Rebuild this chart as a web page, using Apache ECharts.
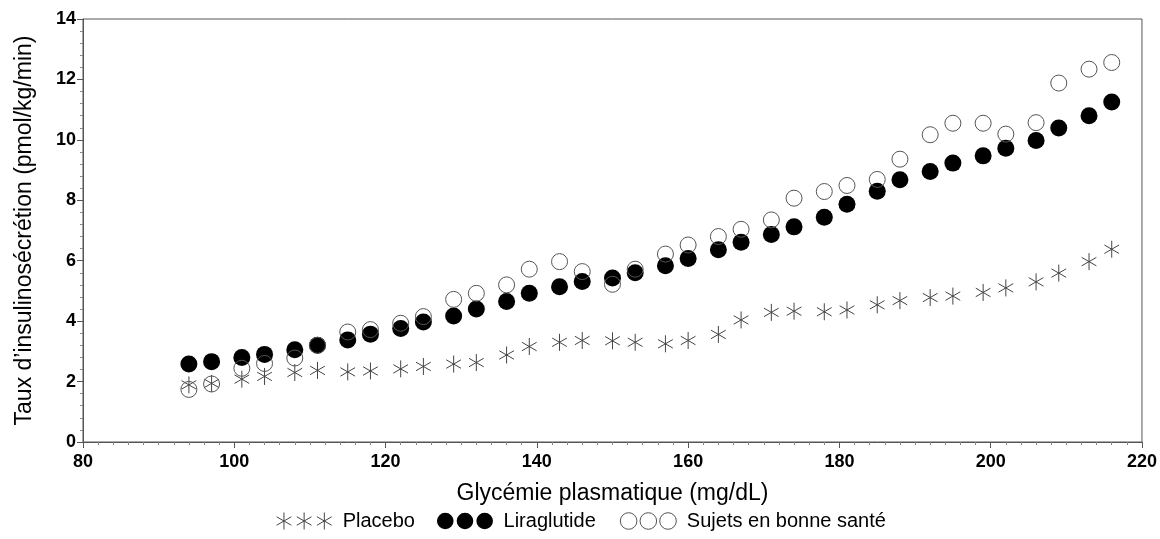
<!DOCTYPE html>
<html>
<head>
<meta charset="utf-8">
<script src="https://cdn.jsdelivr.net/npm/echarts@6/dist/echarts.min.js"></script>
<style>
html,body{margin:0;padding:0;background:#fff;}
#chart{width:1160px;height:539px;}
</style>
</head>
<body>
<div id="chart"></div>
<script>
// Glycémie plasmatique (mg/dL)
var glucose = [94,97,101,104,108,111,115,118,122,125,129,132,136,139,143,146,150,153,157,160,164,167,171,174,178,181,185,188,192,195,199,202,206,209,213,216];
var placebo = [1.89,1.94,2.08,2.17,2.30,2.37,2.32,2.35,2.42,2.50,2.58,2.63,2.88,3.16,3.30,3.36,3.35,3.30,3.25,3.36,3.56,4.04,4.29,4.33,4.31,4.37,4.54,4.68,4.78,4.83,4.95,5.10,5.30,5.59,5.97,6.38];
var liraglutide = [2.58,2.66,2.80,2.90,3.05,3.20,3.38,3.57,3.76,3.97,4.17,4.40,4.65,4.92,5.14,5.31,5.43,5.60,5.83,6.07,6.36,6.61,6.87,7.12,7.44,7.87,8.30,8.68,8.95,9.23,9.47,9.72,9.98,10.39,10.80,11.25];
var healthy = [1.74,1.92,2.44,2.60,2.78,3.20,3.64,3.72,3.93,4.15,4.72,4.92,5.20,5.72,5.97,5.64,5.22,5.72,6.22,6.52,6.80,7.04,7.35,8.07,8.29,8.49,8.69,9.36,10.17,10.55,10.55,10.19,10.57,11.88,12.34,12.56];
var seriesNames = ['Placebo','Liraglutide','Sujets en bonne santé'];
var xTitle = 'Glycémie plasmatique (mg/dL)';
var yTitle = 'Taux d\u2019insulinosécrétion (pmol/kg/min)';

function pairs(ys){ return glucose.map(function(x,i){ return [x, ys[i]]; }); }

var FONT = 'Liberation Sans, Arial, sans-serif';
var starPath = 'path://M0,-8L0,8M-6.93,-4L6.93,4M-6.93,4L6.93,-4';
function star3(){
  var s='path://';
  [0,19,38].forEach(function(c){
    s += 'M'+c+',-8L'+c+',8M'+(c-6.93)+',-4L'+(c+6.93)+',4M'+(c-6.93)+',4L'+(c+6.93)+',-4';
  });
  return s;
}
function circ3(){
  var s='path://';
  [0,19,38].forEach(function(c){
    s += 'M'+(c-8)+',0A8,8 0 1,0 '+(c+8)+',0A8,8 0 1,0 '+(c-8)+',0Z';
  });
  return s;
}

var chart = echarts.init(document.getElementById('chart'), null, {renderer:'canvas'});
chart.setOption({
  animation:false,
  backgroundColor:'#fff',
  textStyle:{fontFamily:FONT},
  grid:{left:83, right:18, top:19, bottom:97, show:true, borderColor:'#555', borderWidth:1, backgroundColor:'transparent'},
  legend:{
    bottom:2, left:'center', itemGap:22, itemWidth:56, itemHeight:17,
    textStyle:{fontFamily:FONT, fontSize:20, color:'#000'},
    formatter:function(n){ return ' ' + n; },
    data:[
      {name:seriesNames[0], icon:star3(), itemStyle:{color:'none', borderColor:'#444', borderWidth:1, opacity:1}},
      {name:seriesNames[1], icon:circ3(), itemStyle:{color:'#000', borderColor:'#000', borderWidth:0, opacity:1}},
      {name:seriesNames[2], icon:circ3(), itemStyle:{color:'none', borderColor:'#555', borderWidth:1, opacity:1}}
    ]
  },
  xAxis:{
    type:'value', min:80, max:220, interval:20,
    name:xTitle, nameLocation:'middle', nameGap:40,
    nameTextStyle:{fontFamily:FONT, fontSize:23, color:'#000'},
    axisLine:{show:true, lineStyle:{color:'#555', width:1}},
    axisTick:{show:true, inside:false, length:6, lineStyle:{color:'#555'}},
    minorTick:{show:true, splitNumber:10, length:3, lineStyle:{color:'#888'}},
    splitLine:{show:false},
    axisLabel:{fontFamily:FONT, fontSize:18, fontWeight:'bold', color:'#000', margin:11}
  },
  yAxis:{
    type:'value', min:0, max:14, interval:2,
    name:yTitle, nameLocation:'middle', nameGap:47,
    nameTextStyle:{fontFamily:FONT, fontSize:23, color:'#000'},
    axisLine:{show:true, lineStyle:{color:'#555', width:1}},
    axisTick:{show:true, inside:false, length:6, lineStyle:{color:'#555'}},
    minorTick:{show:true, splitNumber:5, length:3, lineStyle:{color:'#888'}},
    splitLine:{show:false},
    axisLabel:{fontFamily:FONT, fontSize:18, fontWeight:'bold', color:'#000', margin:7}
  },
  series:[
    {name:seriesNames[0], type:'scatter', data:pairs(placebo), symbol:starPath, symbolSize:17, symbolKeepAspect:true,
     itemStyle:{color:'none', borderColor:'#444', borderWidth:1, opacity:1}},
    {name:seriesNames[1], type:'scatter', data:pairs(liraglutide), symbol:'circle', symbolSize:17,
     itemStyle:{color:'#000', borderWidth:0, opacity:1}},
    {name:seriesNames[2], type:'scatter', data:pairs(healthy), symbol:'circle', symbolSize:16,
     itemStyle:{color:'none', borderColor:'#555', borderWidth:1, opacity:1}}
  ]
});
</script>
</body>
</html>
